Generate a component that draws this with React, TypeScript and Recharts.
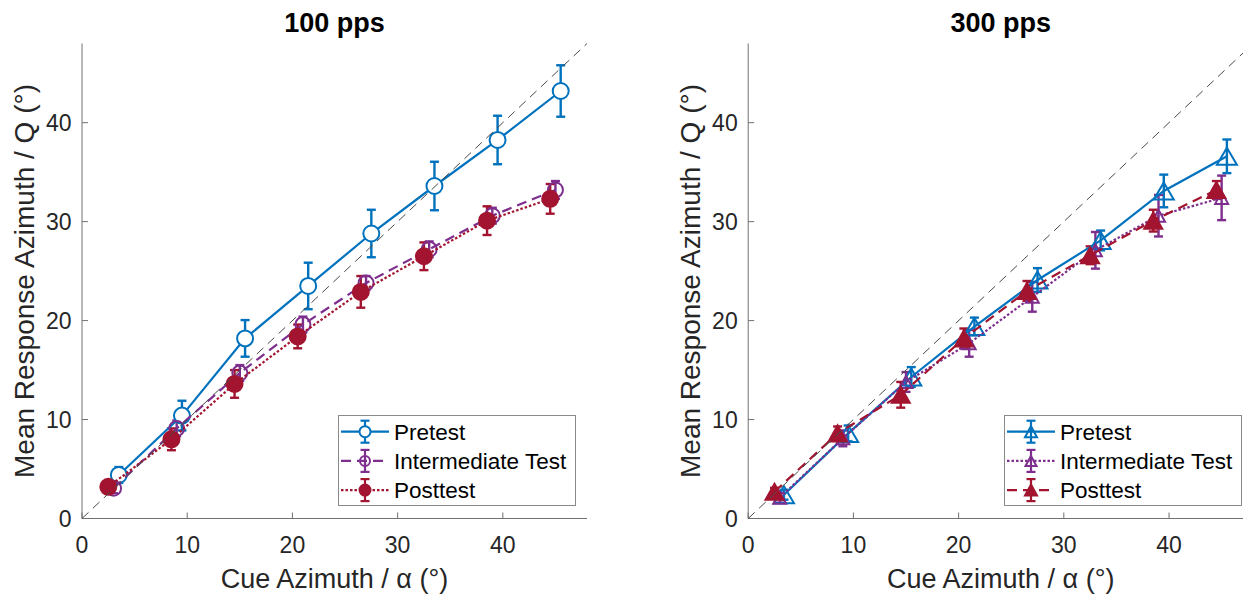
import React from 'react';
import { ScatterChart, Scatter, XAxis, YAxis, ErrorBar, ReferenceLine, Label } from 'recharts';

const FONT = '"Liberation Sans", Arial, Helvetica, sans-serif';
const TXT = '#262626';
const AXIS = '#707070';
const BLUE = '#0072BD';
const PURPLE = '#7E2F8E';
const RED = '#A2142F';

// ---------- data: 100 pps ----------
const cuePre100 = [3.5, 9.5, 15.5, 21.5, 27.5, 33.5, 39.5, 45.5];
const respPre100 = [4.4, 10.4, 18.2, 23.5, 28.8, 33.6, 38.25, 43.2];
const errPre100 = [0.8, 1.5, 1.85, 2.35, 2.4, 2.45, 2.45, 2.6];

const cueInt100 = [3.0, 9.0, 15.0, 21.0, 27.0, 33.0, 39.0, 45.0];
const respInt100 = [3.05, 9.1, 14.7, 19.6, 23.8, 27.2, 30.6, 33.2];
const errInt100 = [0.5, 0.8, 0.8, 0.8, 0.7, 0.8, 0.8, 0.9];

const cuePost100 = [2.5, 8.5, 14.5, 20.5, 26.5, 32.5, 38.5, 44.5];
const respPost100 = [3.2, 8.0, 13.6, 18.4, 22.9, 26.5, 30.1, 32.3];
const errPost100 = [0.5, 1.1, 1.4, 1.2, 1.6, 1.4, 1.45, 1.5];

// ---------- data: 300 pps ----------
const cuePre300 = [3.4, 9.5, 15.5, 21.5, 27.5, 33.5, 39.5, 45.5];
const respPre300 = [2.4, 8.6, 14.3, 19.4, 24.1, 28.1, 33.1, 36.6];
const errPre300 = [0.5, 0.8, 1.0, 0.9, 1.2, 1.0, 1.65, 1.7];

const cueInt300 = [3.0, 9.0, 15.0, 21.0, 27.0, 33.0, 39.0, 45.0];
const respInt300 = [2.1, 8.1, 13.8, 17.7, 22.4, 27.1, 30.6, 32.4];
const errInt300 = [0.5, 0.8, 1.0, 1.35, 1.5, 1.85, 2.1, 2.25];

const cuePost300 = [2.5, 8.5, 14.5, 20.5, 26.5, 32.5, 38.5, 44.5];
const respPost300 = [2.7, 8.6, 12.5, 18.2, 23.0, 26.6, 30.1, 33.2];
const errPost300 = [0.4, 0.7, 1.3, 1.0, 1.0, 0.9, 1.1, 0.9];

// ---------- axes / labels ----------
const axisTicks = [0, 10, 20, 30, 40];
const axisMax = 48;
const panelTitles = ['100 pps', '300 pps'];
const seriesNames = ['Pretest', 'Intermediate Test', 'Posttest'];
const xAxisTitle = 'Cue Azimuth / α (°)';
const yAxisTitle = 'Mean Response Azimuth / Q (°)';

const zip = (xs: number[], ys: number[], es: number[]) =>
  xs.map((x, i) => ({ x, y: ys[i], err: es[i] }));

// ---------- layout ----------
const CHART_H = 596;
const MARGIN_TOP = 43.5;
const X_AXIS_H = 50;
const MARGIN_BOTTOM = 27.5;
const Y_AXIS_W = 60;
const TICK_MARGIN = 10;
const PLOT_TOP = MARGIN_TOP;
const PLOT_BOTTOM = CHART_H - MARGIN_BOTTOM - X_AXIS_H;

type Series = {
  name: string;
  data: { x: number; y: number; err: number }[];
  color: string;
  dash?: string;
  lineWidth: number;
  kind: 'circle' | 'triangle';
  fill: string;
  r?: number;
  w?: number;
  h?: number;
  legend: { r?: number; w?: number; h?: number };
};

function Marker({ s, cx, cy, r, w, h }: { s: Series; cx: number; cy: number; r?: number; w?: number; h?: number }) {
  if (s.kind === 'circle') {
    return <circle cx={cx} cy={cy} r={r} fill={s.fill} stroke={s.color} strokeWidth={2} />;
  }
  const ww = w as number;
  const hh = h as number;
  const pts = `${cx},${cy - hh / 2} ${cx + ww / 2},${cy + hh / 2} ${cx - ww / 2},${cy + hh / 2}`;
  return <polygon points={pts} fill={s.fill} stroke={s.color} strokeWidth={2} strokeLinejoin="miter" />;
}

const makeShape = (s: Series) => (p: any) => (
  <Marker s={s} cx={p.cx} cy={p.cy} r={s.r} w={s.w} h={s.h} />
);

const XTick = (props: any) => {
  const { x, y, payload } = props;
  const axisY = y - TICK_MARGIN;
  return (
    <g>
      <line x1={x} x2={x} y1={axisY} y2={axisY - 6} stroke={AXIS} strokeWidth={1} />
      <text x={x} y={axisY + 34} textAnchor="middle" fontSize={23} fill={TXT} fontFamily={FONT}>
        {payload.value}
      </text>
    </g>
  );
};

const YTick = (props: any) => {
  const { x, y, payload } = props;
  const axisX = x + TICK_MARGIN;
  return (
    <g>
      <line x1={axisX} x2={axisX + 6} y1={y} y2={y} stroke={AXIS} strokeWidth={1} />
      <text x={axisX - 10.5} y={y} dy="0.35em" textAnchor="end" fontSize={23} fill={TXT} fontFamily={FONT}>
        {payload.value}
      </text>
    </g>
  );
};

function LegendBox({ series, left, top }: { series: Series[]; left: number; top: number }) {
  return (
    <svg style={{ position: 'absolute', left, top }} width={239} height={92}>
      <rect x={0.5} y={0.5} width={237} height={90} fill="#ffffff" stroke="#8a8a8a" strokeWidth={1} />
      {series.map((s, i) => {
        const cy = 16.7 + i * 29.2;
        return (
          <g key={s.name}>
            <line x1={3} x2={51} y1={cy} y2={cy} stroke={s.color} strokeWidth={s.lineWidth} strokeDasharray={s.dash} />
            <line x1={27} x2={27} y1={cy - 11} y2={cy + 11} stroke={s.color} strokeWidth={2.2} />
            <line x1={22.5} x2={31.5} y1={cy - 11} y2={cy - 11} stroke={s.color} strokeWidth={2.2} />
            <line x1={22.5} x2={31.5} y1={cy + 11} y2={cy + 11} stroke={s.color} strokeWidth={2.2} />
            <Marker s={s} cx={27} cy={cy} r={s.legend.r} w={s.legend.w} h={s.legend.h} />
            <text x={56} y={cy} dy="0.35em" fontSize={22.5} fill="#000" fontFamily={FONT}>
              {s.name}
            </text>
          </g>
        );
      })}
    </svg>
  );
}

function Panel({
  left,
  width,
  marginLeft,
  marginRight,
  title,
  series,
}: {
  left: number;
  width: number;
  marginLeft: number;
  marginRight: number;
  title: string;
  series: Series[];
}) {
  const plotLeft = marginLeft + Y_AXIS_W;
  const plotW = width - marginLeft - marginRight - Y_AXIS_W;
  const yMid = (PLOT_TOP + PLOT_BOTTOM) / 2;
  const XLab = () => (
    <text x={plotLeft + plotW / 2} y={588} textAnchor="middle" fontSize={27} fill={TXT} fontFamily={FONT}>
      {xAxisTitle}
    </text>
  );
  const YLab = () => (
    <text
      x={plotLeft - 48}
      y={yMid}
      transform={`rotate(-90 ${plotLeft - 48} ${yMid})`}
      textAnchor="middle"
      fontSize={28}
      fill={TXT}
      fontFamily={FONT}
    >
      {yAxisTitle}
    </text>
  );
  return (
    <div style={{ position: 'absolute', left, top: 0, width, height: CHART_H }}>
      <div
        style={{
          position: 'absolute',
          left: plotLeft,
          width: plotW,
          top: 10,
          textAlign: 'center',
          fontSize: 27,
          lineHeight: '27px',
          fontWeight: 'bold',
          color: '#000',
          fontFamily: FONT,
        }}
      >
        {title}
      </div>
      <ScatterChart
        width={width}
        height={CHART_H}
        margin={{ top: MARGIN_TOP, right: marginRight, bottom: MARGIN_BOTTOM, left: marginLeft }}
      >
        <XAxis
          type="number"
          dataKey="x"
          domain={[0, axisMax]}
          ticks={axisTicks}
          allowDataOverflow
          height={X_AXIS_H}
          tickSize={0}
          tickMargin={TICK_MARGIN}
          tickLine={false}
          axisLine={{ stroke: AXIS, strokeWidth: 1 }}
          tick={<XTick />}
        >
          <Label content={<XLab />} />
        </XAxis>
        <YAxis
          type="number"
          dataKey="y"
          domain={[0, axisMax]}
          ticks={axisTicks}
          allowDataOverflow
          width={Y_AXIS_W}
          tickSize={0}
          tickMargin={TICK_MARGIN}
          tickLine={false}
          axisLine={{ stroke: AXIS, strokeWidth: 1 }}
          tick={<YTick />}
        >
          <Label content={<YLab />} />
        </YAxis>
        {series.map((s) => (
          <Scatter
            key={s.name}
            name={s.name}
            data={s.data}
            fill={s.color}
            isAnimationActive={false}
            line={{ stroke: s.color, strokeWidth: s.lineWidth, strokeDasharray: s.dash, fill: 'none' }}
            lineType="joint"
            shape={makeShape(s)}
          >
            <ErrorBar
              dataKey="err"
              direction="y"
              width={4.5}
              strokeWidth={2.4}
              stroke={s.color}
              style={{ strokeWidth: 2.4 }}
              isAnimationActive={false}
            />
          </Scatter>
        ))}
        <ReferenceLine
          segment={[
            { x: 0, y: 0 },
            { x: axisMax, y: axisMax },
          ]}
          stroke="#4a4a4a"
          strokeWidth={1}
          strokeDasharray="9 6"
          zIndex={2000}
        />
      </ScatterChart>
      <LegendBox series={series} left={plotLeft + 256} top={415} />
    </div>
  );
}

const series100: Series[] = [
  { name: seriesNames[0], data: zip(cuePre100, respPre100, errPre100), color: BLUE, lineWidth: 2.2, kind: 'circle', fill: '#ffffff', r: 8, legend: { r: 5.5 } },
  { name: seriesNames[1], data: zip(cueInt100, respInt100, errInt100), color: PURPLE, dash: '10 6', lineWidth: 2.2, kind: 'circle', fill: 'none', r: 7.5, legend: { r: 5 } },
  { name: seriesNames[2], data: zip(cuePost100, respPost100, errPost100), color: RED, dash: '2.5 2', lineWidth: 2.2, kind: 'circle', fill: RED, r: 8, legend: { r: 5.5 } },
];

const series300: Series[] = [
  { name: seriesNames[0], data: zip(cuePre300, respPre300, errPre300), color: BLUE, lineWidth: 2.2, kind: 'triangle', fill: 'none', w: 20, h: 17, legend: { w: 12, h: 11 } },
  { name: seriesNames[1], data: zip(cueInt300, respInt300, errInt300), color: PURPLE, dash: '2.5 2', lineWidth: 2.2, kind: 'triangle', fill: 'none', w: 13, h: 12, legend: { w: 11, h: 10 } },
  { name: seriesNames[2], data: zip(cuePost300, respPost300, errPost300), color: RED, dash: '10 6', lineWidth: 2.2, kind: 'triangle', fill: RED, w: 18, h: 16, legend: { w: 12, h: 11 } },
];

export default function App() {
  return (
    <div
      style={{
        position: 'absolute',
        left: 0,
        top: 0,
        width: 1243,
        height: 596,
        overflow: 'hidden',
        background: '#ffffff',
        fontFamily: FONT,
      }}
    >
      <Panel left={0} width={620} marginLeft={22} marginRight={33} title={panelTitles[0]} series={series100} />
      <Panel left={620} width={640} marginLeft={68.2} marginRight={6.8} title={panelTitles[1]} series={series300} />
    </div>
  );
}
